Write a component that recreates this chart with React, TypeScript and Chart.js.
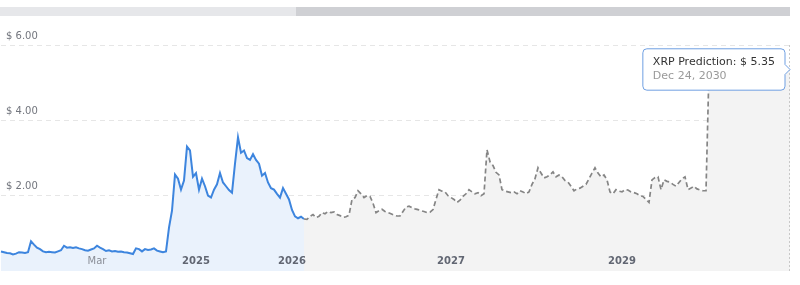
import React, { useEffect, useRef } from "react";
import { Chart, registerables } from "chart.js";

Chart.register(...registerables);

// ---- data ----
const historyValues = [
  0.52, 0.5, 0.48, 0.47, 0.44, 0.46, 0.5, 0.49, 0.48, 0.5,
  0.79, 0.7, 0.62, 0.58, 0.52, 0.5, 0.51, 0.5, 0.49, 0.52,
  0.55, 0.67, 0.62, 0.63, 0.61, 0.63, 0.6, 0.58, 0.55, 0.54,
  0.57, 0.6, 0.67, 0.62, 0.58, 0.53, 0.55, 0.52, 0.53, 0.51,
  0.52, 0.5, 0.49, 0.47, 0.45, 0.6, 0.58, 0.52, 0.58, 0.56,
  0.57, 0.6, 0.54, 0.52, 0.5, 0.52, 1.15, 1.6, 2.56, 2.45,
  2.16, 2.4, 3.3, 3.2, 2.5, 2.6, 2.16, 2.45, 2.25, 2.0,
  1.95, 2.16, 2.3, 2.6, 2.35, 2.25, 2.15, 2.08, 2.85, 3.55,
  3.14, 3.2, 3.0, 2.95, 3.1, 2.95, 2.85, 2.53, 2.6, 2.35,
  2.2, 2.16, 2.05, 1.95, 2.2, 2.05, 1.9, 1.62, 1.45, 1.4,
  1.44, 1.38,
];

const predictionValues = [
  1.38, 1.37, 1.45, 1.5, 1.42, 1.45, 1.55, 1.52, 1.58, 1.55,
  1.57, 1.5, 1.47, 1.42, 1.44, 1.48, 1.9, 1.95, 2.13, 2.05,
  1.95, 2.0, 1.98, 1.8, 1.55, 1.6, 1.64, 1.58, 1.55, 1.52,
  1.48, 1.46, 1.46, 1.58, 1.7, 1.72, 1.68, 1.65, 1.63, 1.6,
  1.58, 1.55, 1.56, 1.63, 1.9, 2.16, 2.12, 2.1, 2.0, 1.95,
  1.9, 1.82, 1.88, 1.98, 2.05, 2.16, 2.1, 2.05, 2.08, 2.0,
  2.05, 3.22, 2.9, 2.8, 2.62, 2.55, 2.16, 2.12, 2.1, 2.08,
  2.1, 2.05, 2.13, 2.1, 2.05, 2.1, 2.3, 2.45, 2.74, 2.6,
  2.47, 2.5, 2.55, 2.63, 2.5, 2.55, 2.5, 2.4, 2.36, 2.25,
  2.13, 2.18, 2.2, 2.25, 2.3, 2.45, 2.6, 2.74, 2.6, 2.5,
  2.55, 2.42, 2.1, 2.05, 2.16, 2.12, 2.1, 2.16, 2.15, 2.1,
  2.08, 2.05, 2.0, 1.98, 1.9, 1.82, 2.42, 2.48, 2.5, 2.16,
  2.42, 2.38, 2.36, 2.3, 2.25, 2.35, 2.45, 2.5, 2.16, 2.2,
  2.25, 2.18, 2.15, 2.13, 2.13, 5.35, 5.35, 5.35, 5.35, 5.35,
  5.35, 5.35, 5.35, 5.35, 5.35, 5.35, 5.35, 5.35, 5.35, 5.35,
  5.35, 5.35, 5.35, 5.35, 5.35, 5.35, 5.35, 5.35, 5.35, 5.35,
  5.35, 5.35, 5.35,
];

const xTickLabels = ["Mar", "2025", "2026", "2027", "2029"];
const xTickSlots = [32, 65, 97, 150, 207];
const xTickBold = [false, true, true, true, true];

const yTickValues = [2, 4, 6];

const historyName = "XRP Price";
const predictionName = "XRP Prediction";
const tooltipDate = "Dec 24, 2030";

const FONT = "'DejaVu Sans', Verdana, sans-serif";

export default function App() {
  const canvasRef = useRef<HTMLCanvasElement | null>(null);

  useEffect(() => {
    document.body.style.margin = "0";
    const predictionStart = historyValues.length - 1;
    const total = predictionStart + predictionValues.length;
    const slots = Array.from({ length: total }, (_, i) => String(i));
    const historyData = [...historyValues, ...Array(total - historyValues.length).fill(null)];
    const predictionData = [...Array(predictionStart).fill(null), ...predictionValues];

    const crosshair = {
      id: "crosshair",
      afterDatasetsDraw(chart: any) {
        const active = chart.tooltip?.getActiveElements?.() || [];
        if (!active.length) return;
        const x = active[0].element.x;
        const { top, bottom } = chart.chartArea;
        const ctx = chart.ctx;
        ctx.save();
        ctx.strokeStyle = "#c8c8c8";
        ctx.lineWidth = 1;
        ctx.setLineDash([2, 2]);
        ctx.beginPath();
        ctx.moveTo(Math.round(x) - 0.5, top);
        ctx.lineTo(Math.round(x) - 0.5, bottom);
        ctx.stroke();
        ctx.restore();
      },
    };

    const chart = new Chart(canvasRef.current as HTMLCanvasElement, {
      type: "line",
      data: {
        labels: slots,
        datasets: [
          {
            label: predictionName,
            data: predictionData,
            borderColor: "#858585",
            borderWidth: 1.7,
            borderDash: [5, 3],
            backgroundColor: "#f3f3f3",
            fill: "origin",
            pointRadius: 0,
            pointHoverRadius: 0,
            tension: 0,
          },
          {
            label: historyName,
            data: historyData,
            borderColor: "#3d85de",
            borderWidth: 2,
            backgroundColor: "#eaf2fc",
            fill: "origin",
            pointRadius: 0,
            pointHoverRadius: 0,
            tension: 0,
          },
        ],
      },
      options: {
        animation: false,
        responsive: false,
        events: [],
        layout: { padding: { top: 45, right: 10, left: 0, bottom: 0 } },
        scales: {
          x: {
            type: "category",
            offset: false,
            grid: { display: false, drawTicks: false },
            border: { display: false },
            afterFit(scale: any) {
              scale.height = 14;
              scale.paddingLeft = 0;
              scale.paddingRight = 0;
            },
            ticks: {
              z: 1,
              autoSkip: false,
              maxRotation: 0,
              minRotation: 0,
              mirror: true,
              padding: 4,
              callback: (_v: any, index: number) => {
                const k = xTickSlots.indexOf(index);
                return k >= 0 ? xTickLabels[k] : "";
              },
              font: (ctx: any) => {
                const k = xTickSlots.indexOf(ctx.index);
                return { family: FONT, size: 10, weight: k >= 0 && xTickBold[k] ? "bold" : "normal" };
              },
              color: (ctx: any) => {
                const k = xTickSlots.indexOf(ctx.index);
                return k >= 0 && xTickBold[k] ? "#626773" : "#8b8f98";
              },
            },
          },
          y: {
            min: 0,
            max: 6,
            afterFit(scale: any) {
              scale.width = 0;
            },
            afterBuildTicks(scale: any) {
              scale.ticks = [0, ...yTickValues].map((v) => ({ value: v }));
            },
            grid: {
              drawTicks: false,
              color: (ctx: any) => (ctx.tick && ctx.tick.value === 0 ? "rgba(0,0,0,0)" : "#e6e6e6"),
            },
            border: { display: false, dash: [5, 4] },
            ticks: {
              mirror: true,
              padding: 5,
              labelOffset: -9,
              color: "#72757d",
              font: { family: FONT, size: 10 },
              callback: (v: any) => (v === 0 ? "" : "$ " + Number(v).toFixed(2)),
            },
          },
        },
        plugins: {
          legend: { display: false },
          title: { display: false },
          tooltip: {
            enabled: true,
            xAlign: "right",
            yAlign: "center",
            backgroundColor: "#ffffff",
            borderColor: "#6f9fe2",
            borderWidth: 1,
            cornerRadius: 4,
            caretSize: 5,
            caretPadding: 0,
            displayColors: false,
            padding: { left: 10, right: 10, top: 7, bottom: 7 },
            titleColor: "#333333",
            titleFont: { family: FONT, size: 11, weight: "normal" },
            titleMarginBottom: 1,
            bodyColor: "#9a9a9a",
            bodyFont: { family: FONT, size: 11 },
            callbacks: {
              title: (items: any[]) =>
                `${items[0].dataset.label}: $ ${Number(items[0].parsed.y).toFixed(2)}`,
              label: () => tooltipDate,
            },
          },
        },
      },
      plugins: [crosshair],
    } as any);

    const lastIndex = total - 1;
    chart.tooltip?.setActiveElements([{ datasetIndex: 0, index: lastIndex }], { x: 0, y: 0 });
    chart.update();

    return () => chart.destroy();
  }, []);

  return (
    <div style={{ position: "fixed", left: 0, top: 0, width: 800, height: 285, background: "#fff" }}>
      <div style={{ position: "absolute", left: 0, top: 7, width: 296, height: 9, background: "#e6e7ea" }} />
      <div style={{ position: "absolute", left: 296, top: 7, width: 494, height: 9, background: "#cfd0d4" }} />
      <canvas ref={canvasRef} width={800} height={285} style={{ display: "block" }} />
    </div>
  );
}
